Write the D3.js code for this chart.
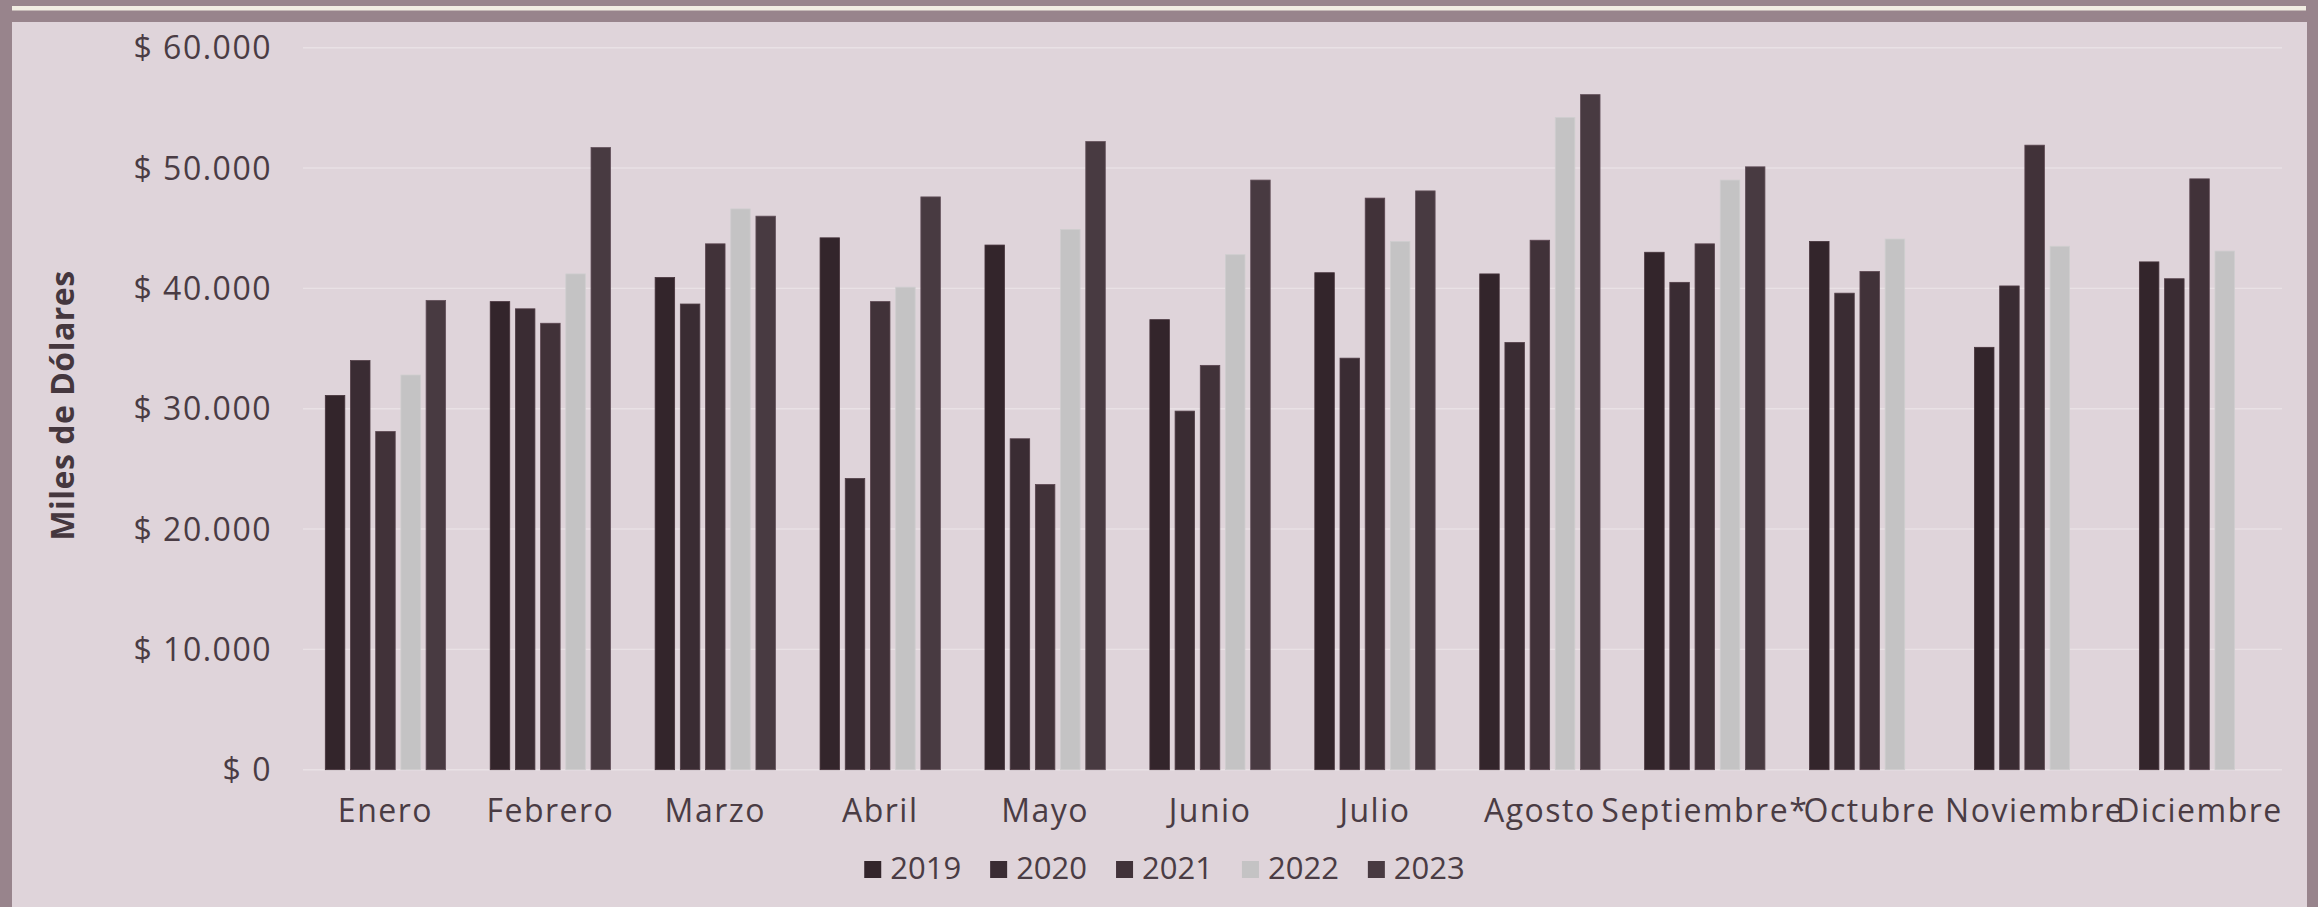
<!DOCTYPE html>
<html>
<head>
<meta charset="utf-8">
<script src="https://cdn.jsdelivr.net/npm/d3@7/dist/d3.min.js"></script>
<style>
  html, body { margin: 0; padding: 0; background: #dfd4da; }
  svg { display: block; }
</style>
</head>
<body>
<svg id="chart" width="2318" height="907"></svg>
<script>
// ---- data ----
const months = ["Enero","Febrero","Marzo","Abril","Mayo","Junio","Julio","Agosto","Septiembre*","Octubre","Noviembre","Diciembre"];
const years = ["2019","2020","2021","2022","2023"];
const v2019 = [31100, 38900, 40900, 44200, 43600, 37400, 41300, 41200, 43000, 43900, 35100, 42200];
const v2020 = [34000, 38300, 38700, 24200, 27500, 29800, 34200, 35500, 40500, 39600, 40200, 40800];
const v2021 = [28100, 37100, 43700, 38900, 23700, 33600, 47500, 44000, 43700, 41400, 51900, 49100];
const v2022 = [32800, 41200, 46600, 40100, 44900, 42800, 43900, 54200, 49000, 44100, 43500, 43100];
const v2023 = [39000, 51700, 46000, 47600, 52200, 49000, 48100, 56100, 50100, null, null, null];
const yTicks = [0, 10000, 20000, 30000, 40000, 50000, 60000];
const yTitle = "Miles de Dólares";
const seriesColors = ["#33252b", "#3a2c33", "#413239", "#c4c3c4", "#483a41"];

const seriesValues = [v2019, v2020, v2021, v2022, v2023];

// ---- setup ----
const W = 2318, H = 907;
const svg = d3.select("#chart");
const FONT = "'Open Sans', 'Noto Sans', sans-serif";
const textColor = "#4a3c44";

// background and frame
svg.append("rect").attr("x", 0).attr("y", 0).attr("width", W).attr("height", H).attr("fill", "#dfd4da");
svg.append("rect").attr("x", 0).attr("y", 0).attr("width", W).attr("height", 22).attr("fill", "#98848c");
svg.append("rect").attr("x", 0).attr("y", 0).attr("width", 12).attr("height", H).attr("fill", "#98848c");
svg.append("rect").attr("x", 2307).attr("y", 0).attr("width", W - 2307).attr("height", H).attr("fill", "#98848c");
svg.append("rect").attr("x", 12).attr("y", 6).attr("width", 2294).attr("height", 4.5).attr("fill", "#f1ede2");

// scales
const x0 = d3.scaleBand().domain(months).range([303, 2282]).padding(0);
const x1 = d3.scaleBand().domain(years).range([0, x0.bandwidth()]).paddingInner(0.226).paddingOuter(0.885);
const y = d3.scaleLinear().domain([0, 60000]).range([769.7, 47.7]);

const locale = d3.formatLocale({ decimal: ",", thousands: ".", grouping: [3], currency: ["$ ", ""] });
const fmt = locale.format("$,.0f");

// gridlines
const grid = svg.append("g").attr("class", "grid");
grid.selectAll("line").data(yTicks).join("line")
  .attr("x1", 303).attr("x2", 2282)
  .attr("y1", d => y(d)).attr("y2", d => y(d))
  .attr("stroke", "#e9e1e5").attr("stroke-width", 1.4);

// y axis labels via d3 axis
const yAxis = d3.axisLeft(y).tickValues(yTicks).tickFormat(fmt).tickSize(0).tickPadding(0);
const yg = svg.append("g").attr("transform", "translate(272,0)").call(yAxis);
yg.select(".domain").remove();
yg.selectAll("text")
  .attr("font-family", FONT).attr("font-size", 32).attr("letter-spacing", "1.5px")
  .attr("fill", textColor).attr("dy", "0.35em").attr("x", 0);

// x axis labels
const xAxis = d3.axisBottom(x0).tickSize(0).tickPadding(0);
const xg = svg.append("g").attr("transform", "translate(0,769.7)").call(xAxis);
xg.select(".domain").remove();
xg.selectAll("text")
  .attr("font-family", FONT).attr("font-size", 32).attr("letter-spacing", "1.5px")
  .attr("fill", textColor).attr("y", 52).attr("dy", 0);

// bars
const groups = svg.append("g").selectAll("g").data(months).join("g")
  .attr("transform", d => `translate(${x0(d)},0)`);
groups.selectAll("rect")
  .data((m, i) => years.map((yr, k) => ({ yr, k, v: seriesValues[k][i] })).filter(d => d.v != null))
  .join("rect")
  .attr("x", d => x1(d.yr))
  .attr("width", x1.bandwidth())
  .attr("y", d => y(d.v))
  .attr("height", d => y(0) - y(d.v))
  .attr("fill", d => seriesColors[d.k])
  .attr("stroke", d => d3.color(seriesColors[d.k]).brighter(d.k === 3 ? 0.15 : 0.9))
  .attr("stroke-width", 0.8);

// y title
svg.append("text")
  .attr("transform", "translate(74,405.5) rotate(-90)")
  .attr("text-anchor", "middle")
  .attr("font-family", FONT).attr("font-weight", 700).attr("font-size", 32)
  .attr("letter-spacing", "0.5px")
  .attr("fill", "#45373e")
  .text(yTitle);

// legend
const legend = svg.append("g");
const items = legend.selectAll("g").data(years).join("g");
items.append("rect").attr("width", 17).attr("height", 17).attr("y", 861)
  .attr("fill", (d, i) => seriesColors[i]);
items.append("text").attr("x", 26).attr("y", 879)
  .attr("font-family", FONT).attr("font-size", 31)
  .attr("fill", textColor).text(d => d);
let cx = 0;
const offsets = [];
items.each(function (d, i) {
  offsets.push(cx);
  const tw = d3.select(this).select("text").node().getComputedTextLength();
  cx += 26 + tw + (i < years.length - 1 ? 29 : 0);
});
const startX = 1164.5 - cx / 2;
items.attr("transform", (d, i) => `translate(${startX + offsets[i]},0)`);
</script>
</body>
</html>
